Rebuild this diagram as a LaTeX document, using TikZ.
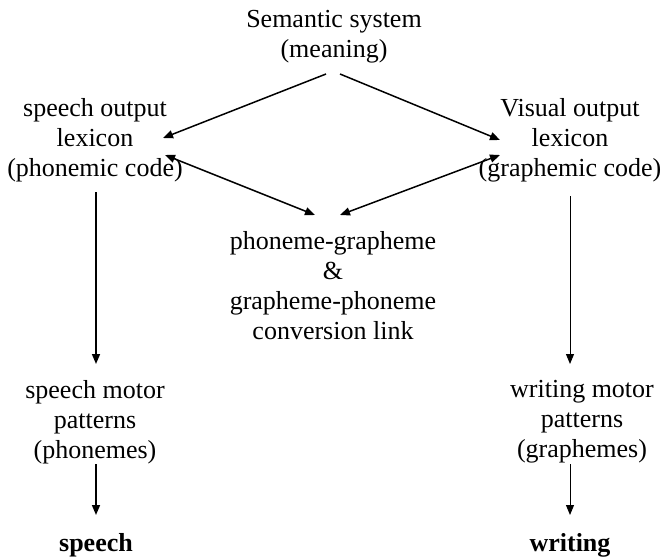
\documentclass[tikz,border=0pt]{standalone}
\usepackage{fontspec}
\setmainfont{Liberation Serif}
\usetikzlibrary{arrows.meta,calc}

\begin{document}
\begin{tikzpicture}[x=0.5pt,y=-0.5pt,
  module/.style={align=center,font=\fontsize{13}{15}\selectfont,inner sep=0pt},
  result/.style={module,font=\fontsize{13}{15}\selectfont\bfseries},
  arc/.style={-{Triangle[length=5pt,width=4pt]},line width=0.75pt},
  link/.style={{Triangle[length=5pt,width=4pt]}-{Triangle[length=5pt,width=4pt]},line width=0.75pt}]
  \useasboundingbox (0,0) rectangle (663,558);
  \node[module] (sem) at (334,37) {Semantic system\\(meaning)};
  \node[module] (spl) at (95,140) {speech output\\lexicon\\(phonemic code)};
  \node[module] (vol) at (570,140) {Visual output\\lexicon\\(graphemic code)};
  \node[module] (conv) at (333,286) {phoneme-grapheme\\\&\\grapheme-phoneme\\conversion link};
  \node[module] (spm) at (95,422) {speech motor\\patterns\\(phonemes)};
  \node[module] (wmp) at (582,422) {writing motor\\patterns\\(graphemes)};
  \node[result] (speech) at (96,545) {speech};
  \node[result] (writing) at (570,545) {writing};

  \draw[arc] ($(sem)+(-8,37)$) -- ($(spl)+(68,-2)$);
  \draw[arc] ($(sem)+(6,37)$) -- ($(vol)+(-70,0)$);
  \draw[link] ($(spl)+(70,15)$) -- ($(conv)+(-18,-71)$);
  \draw[link] ($(vol)+(-70,15)$) -- ($(conv)+(7,-71)$);
  \draw[arc] ($(spl)+(1,52)$) -- ($(spm)+(1,-58)$);
  \draw[arc,line width=0.5pt] ($(vol)+(0,56)$) -- ($(wmp)+(-12,-58)$);
  \draw[arc] ($(spm)+(1,42)$) -- ($(speech)+(0,-30)$);
  \draw[arc,line width=0.5pt] ($(wmp)+(-12,42)$) -- ($(writing)+(0,-30)$);
\end{tikzpicture}
\end{document}
